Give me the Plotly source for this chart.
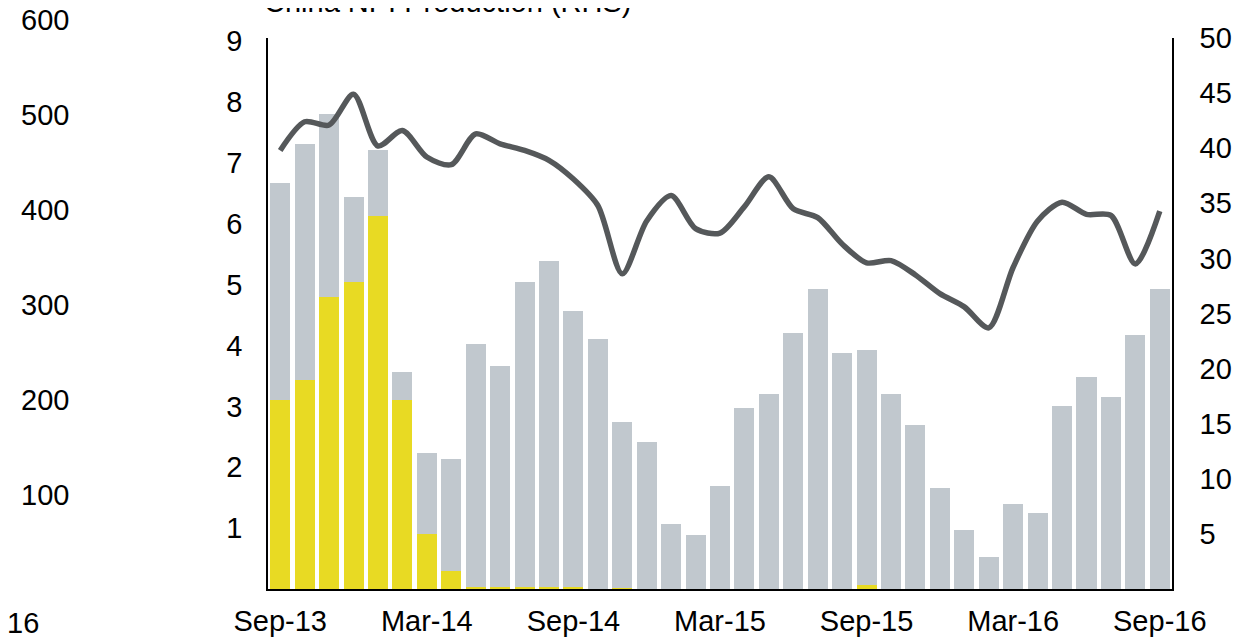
import plotly.graph_objects as go

months = ["Sep-13","Oct-13","Nov-13","Dec-13","Jan-14","Feb-14","Mar-14","Apr-14","May-14","Jun-14",
          "Jul-14","Aug-14","Sep-14","Oct-14","Nov-14","Dec-14","Jan-15","Feb-15","Mar-15","Apr-15",
          "May-15","Jun-15","Jul-15","Aug-15","Sep-15","Oct-15","Nov-15","Dec-15","Jan-16","Feb-16",
          "Mar-16","Apr-16","May-16","Jun-16","Jul-16","Aug-16","Sep-16"]

indonesia = [3.10,3.44,4.79,5.05,6.13,3.10,0.90,0.30,0.03,0.03,0.03,0.03,0.03,0.0,0.01,0.0,0.0,0.0,0.0,0.0,
             0.0,0.0,0.0,0.0,0.06,0.0,0.0,0.0,0.0,0.0,0.0,0.0,0.0,0.0,0.0,0.0,0.0]
philippines = [3.57,3.87,3.01,1.39,1.08,0.47,1.33,1.83,4.00,3.63,5.02,5.35,4.54,4.11,2.74,2.41,1.07,0.89,1.69,2.97,
               3.21,4.21,4.92,3.87,3.86,3.21,2.69,1.66,0.97,0.52,1.39,1.25,3.00,3.48,3.16,4.18,4.92]
npi_production = [39.8,42.4,42.1,44.9,40.2,41.6,39.2,38.5,41.3,40.4,39.8,38.9,37.2,34.8,28.6,33.4,35.7,32.7,32.3,34.7,
                  37.4,34.5,33.7,31.3,29.6,29.8,28.5,26.8,25.6,23.7,29.2,33.4,35.1,34.0,33.9,29.5,34.3]

x_ticks = ["Sep-13","Mar-14","Sep-14","Mar-15","Sep-15","Mar-16","Sep-16"]
left_ticks = [1,2,3,4,5,6,7,8,9]
right_ticks = [5,10,15,20,25,30,35,40,45,50]
stray_left_labels = ["600","500","400","300","200","100"]

W, H = 1248, 639
# target plot area in screen pixels
L, R, T, B = 268, 1172, 38, 589
OFF = 8          # page (body) offset of the figure

FONT = "Liberation Sans, Arial, sans-serif"
FS = 29

fig = go.Figure()
fig.add_trace(go.Bar(x=months, y=indonesia, marker=dict(color="#E8DA23", line=dict(width=0)), name="Indonesia"))
fig.add_trace(go.Bar(x=months, y=philippines, marker=dict(color="#C1C8CE", line=dict(width=0)), name="Philippines"))
fig.add_trace(go.Scatter(x=months, y=npi_production, yaxis="y2", mode="lines",
                         line=dict(color="#55585A", width=5.5, shape="spline", smoothing=0.8),
                         name="China NPI Production (RHS)"))

def px_x(px):
    return (px - L) / (R - L)

def px_y(py):
    return (B - py) / (B - T)

ann = []
ys = [20, 115, 210, 305, 400, 495]
for lab, yy in zip(stray_left_labels, ys):
    ann.append(dict(text=lab, x=px_x(71), y=px_y(yy), xref="paper", yref="paper",
                    xanchor="right", yanchor="middle", showarrow=False,
                    font=dict(family=FONT, size=FS, color="black")))
ann.append(dict(text="16", x=px_x(41), y=px_y(623), xref="paper", yref="paper",
                xanchor="right", yanchor="middle", showarrow=False,
                font=dict(family=FONT, size=FS, color="black")))
ann.append(dict(text="China NPI Production (RHS)", x=px_x(262), y=px_y(20), xref="paper", yref="paper",
                xanchor="left", yanchor="bottom", showarrow=False,
                font=dict(family=FONT, size=FS, color="black")))

fig.update_layout(
    template="none",
    width=W, height=H,
    margin=dict(l=L - OFF, r=W - (R - OFF), t=T - OFF, b=H - (B - OFF), pad=0, autoexpand=False),
    barmode="stack", bargap=0.18,
    showlegend=False,
    plot_bgcolor="white", paper_bgcolor="white",
    font=dict(family=FONT, size=FS, color="black"),
    xaxis=dict(type="category", range=[-0.5, 36.5], tickmode="array", tickvals=x_ticks, ticktext=x_ticks,
               showline=True, linecolor="black", linewidth=2, ticks="", showgrid=False, automargin=False,
               ticklabelstandoff=5, tickfont=dict(family=FONT, size=FS)),
    yaxis=dict(range=[0, 9.05], tickmode="array", tickvals=left_ticks, showline=True, linecolor="black",
               linewidth=1.5, ticks="", showgrid=False, zeroline=False, ticklabelstandoff=18, automargin=False,
               tickfont=dict(family=FONT, size=FS)),
    yaxis2=dict(range=[0, 50], tickmode="array", tickvals=right_ticks, overlaying="y", side="right",
                showline=True, linecolor="black", linewidth=1.5, ticks="", showgrid=False, zeroline=False,
                ticklabelstandoff=20, automargin=False, tickfont=dict(family=FONT, size=FS)),
    annotations=ann,
)

fig.write_html("out.html")
